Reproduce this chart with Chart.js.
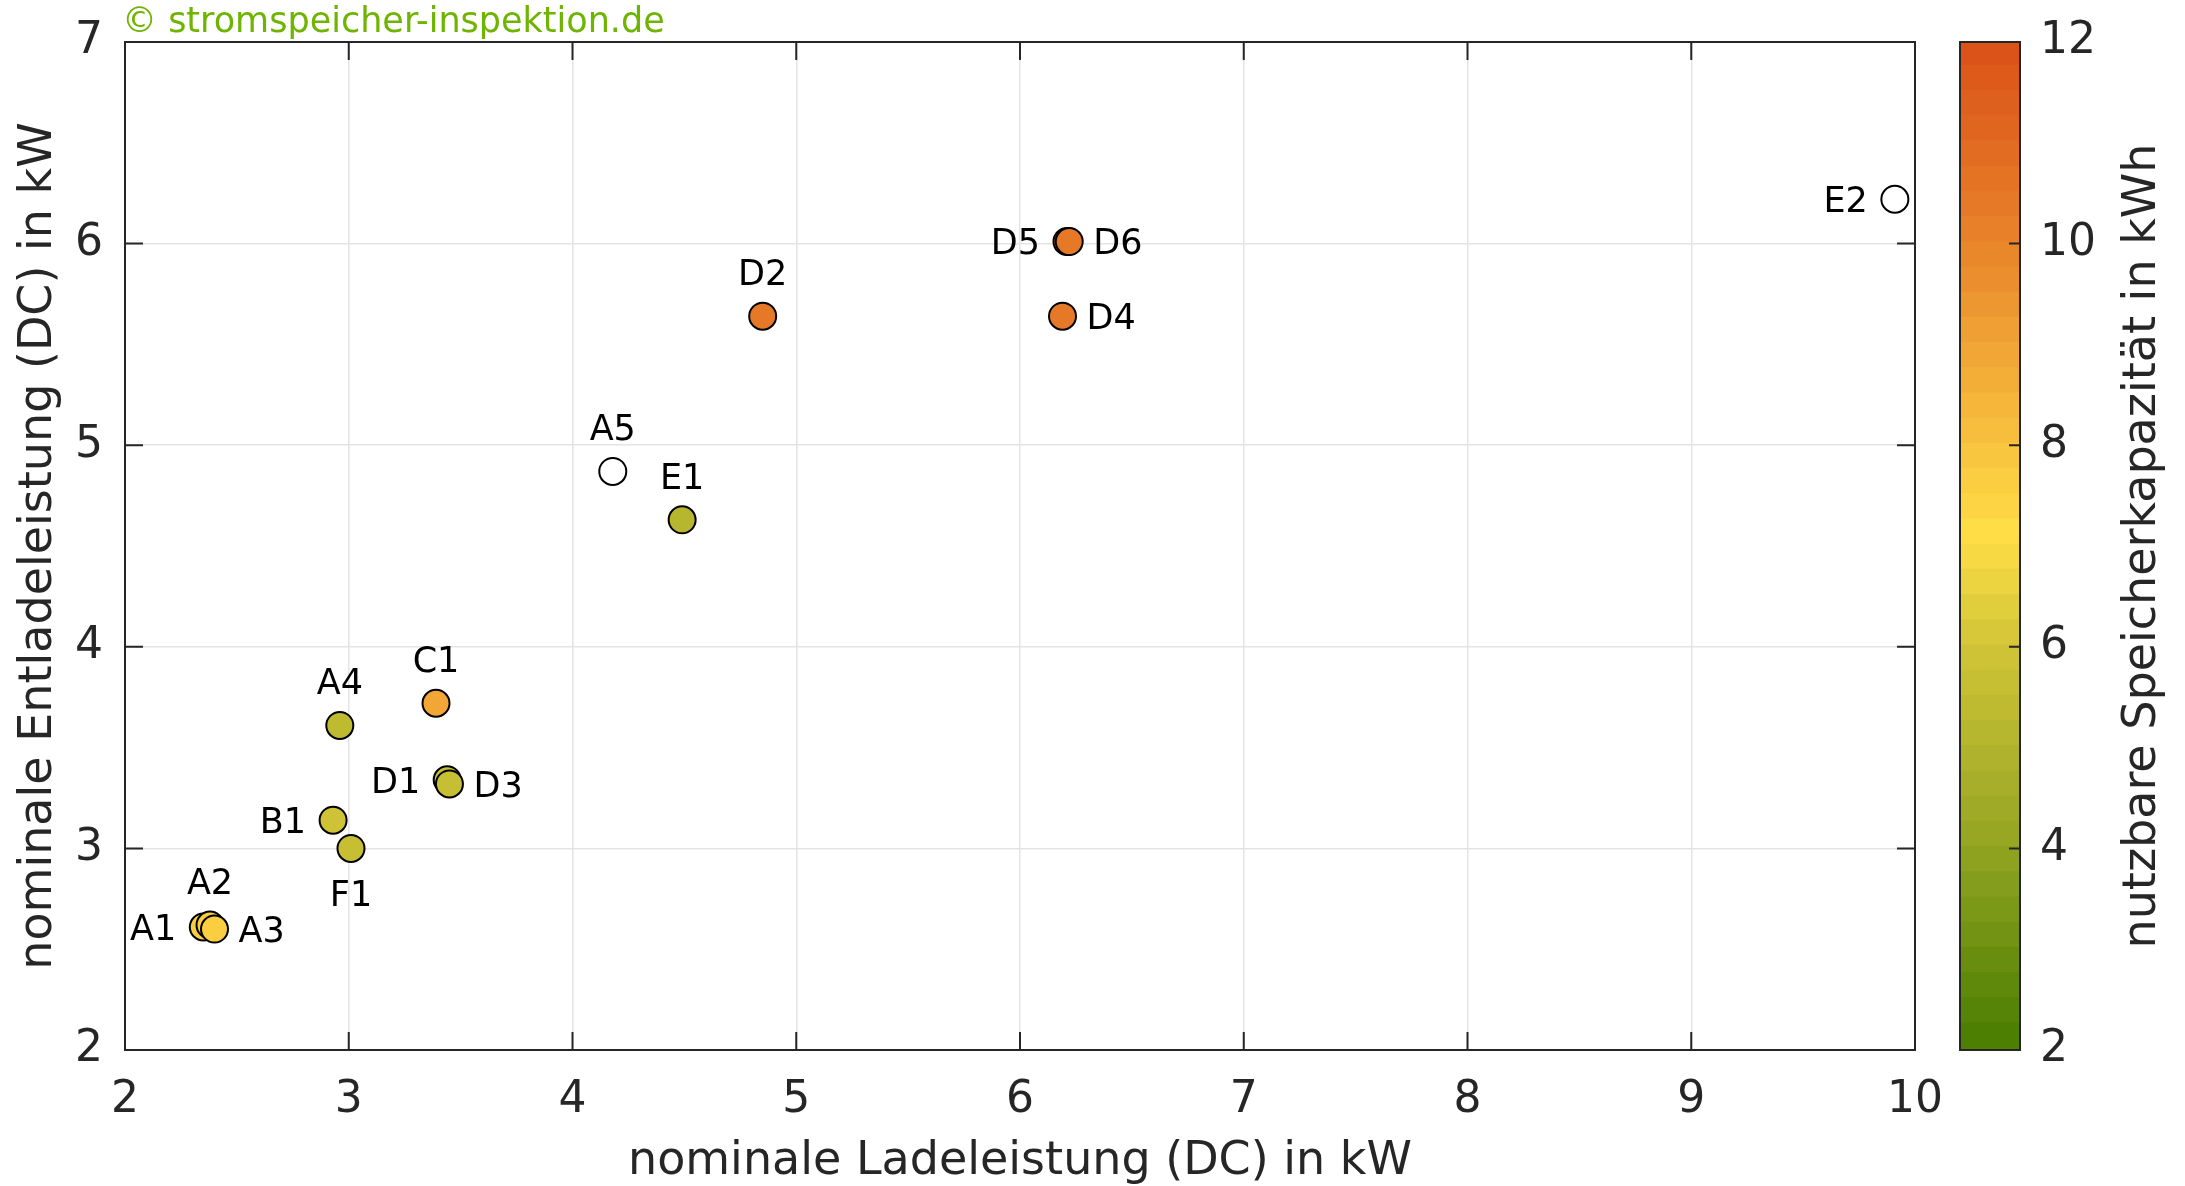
<!DOCTYPE html>
<html><head><meta charset="utf-8">
<script src="https://cdn.jsdelivr.net/npm/chart.js@4/dist/chart.umd.min.js"></script>
<style>
html,body{margin:0;padding:0;background:#fff;overflow:hidden}
#wrap{position:relative;width:2185px;height:1186px}
#main{position:absolute;left:0;top:0}
#cb{position:absolute;left:1940px;top:0}
</style></head><body>
<div id="wrap"><canvas id="main" width="2185" height="1186"></canvas><canvas id="cb" width="245" height="1186"></canvas></div>
<script>
// ---- data ----
const names       = ['A1','A2','A3','A4','A5','B1','C1','D1','D2','D3','D4','D5','D6','E1','E2','F1'];
const chargeKW    = [2.35,2.38,2.40,2.96,4.18,2.93,3.39,3.44,4.85,3.45,6.19,6.21,6.22,4.49,9.91,3.01];
const dischargeKW = [2.61,2.62,2.60,3.61,4.87,3.14,3.72,3.34,5.64,3.32,5.64,6.01,6.01,4.63,6.22,3.00];
const capacityKWh = [7.6,7.6,7.7,5.4,null,5.8,8.9,5.6,10.4,5.6,10.4,10.4,10.4,5.0,null,5.7];
const labelSide   = ['l','t','r','t','t','l','t','l','t','r','r','l','r','t','l','b'];
const xTicks  = [2,3,4,5,6,7,8,9,10];
const yTicks  = [2,3,4,5,6,7];
const cbTicks = [2,4,6,8,10,12];
const cbMin = 2, cbMax = 12, cbLevels = 40;

// ---- styles ----
const FONT = 'DejaVu Sans';
const TXT = '#262626';
const cmapStops = [
  [2,  [72,124,0]],
  [4,  [147,164,34]],
  [6,  [210,197,56]],
  [7.1,[255,222,70]],
  [8,  [248,194,62]],
  [10, [232,131,42]],
  [12, [218,80,24]]
];
function cmapRaw(v){
  if (v <= cmapStops[0][0]) return cmapStops[0][1];
  for (let i=1;i<cmapStops.length;i++){
    const [v1,c1]=cmapStops[i], [v0,c0]=cmapStops[i-1];
    if (v <= v1){
      const t=(v-v0)/(v1-v0);
      return c0.map((c,k)=>Math.round(c+(c1[k]-c)*t));
    }
  }
  return cmapStops[cmapStops.length-1][1];
}
function cmapQuant(v){
  const step=(cbMax-cbMin)/cbLevels;
  let idx=Math.floor((v-cbMin)/step); idx=Math.max(0,Math.min(cbLevels-1,idx));
  const c=cmapRaw(cbMin+(idx+0.5)*step);
  return `rgb(${c[0]},${c[1]},${c[2]})`;
}

Chart.defaults.font.family = FONT;
Chart.defaults.color = TXT;

const points = names.map((n,i)=>({x:chargeKW[i], y:dischargeKW[i]}));
const pointColors = capacityKWh.map(v => v==null ? '#ffffff' : cmapQuant(v));

const mainPlugin = {
  id:'mainDeco',
  beforeDatasetsDraw(chart){
    const {ctx, chartArea:a, scales} = chart;
    ctx.save();
    ctx.strokeStyle = TXT; ctx.lineWidth = 2;
    const tl = 18;
    ctx.beginPath();
    xTicks.forEach(v=>{
      const px = scales.x.getPixelForValue(v);
      ctx.moveTo(px,a.bottom); ctx.lineTo(px,a.bottom-tl);
      ctx.moveTo(px,a.top); ctx.lineTo(px,a.top+tl);
    });
    yTicks.forEach(v=>{
      const py = scales.y.getPixelForValue(v);
      ctx.moveTo(a.left,py); ctx.lineTo(a.left+tl,py);
      ctx.moveTo(a.right,py); ctx.lineTo(a.right-tl,py);
    });
    ctx.stroke();
    ctx.strokeRect(a.left,a.top,a.right-a.left,a.bottom-a.top);
    ctx.restore();
  },
  afterDatasetsDraw(chart){
    const {ctx} = chart;
    const meta = chart.getDatasetMeta(0);
    ctx.save();
    ctx.fillStyle = '#000';
    ctx.font = `35px "${FONT}"`;
    ctx.textBaseline = 'alphabetic';
    const half = 12.8;
    meta.data.forEach((el,i)=>{
      const px=el.x, py=el.y, s=labelSide[i];
      if (s==='t'){ ctx.textAlign='center'; ctx.fillText(names[i],px,py-31); }
      else if (s==='b'){ ctx.textAlign='center'; ctx.fillText(names[i],px,py+45+half); }
      else if (s==='l'){ ctx.textAlign='right'; ctx.fillText(names[i],px-27,py+half); }
      else { ctx.textAlign='left'; ctx.fillText(names[i],px+24,py+half); }
    });
    ctx.restore();
  },
  afterDraw(chart){
    const {ctx} = chart;
    ctx.save();
    ctx.fillStyle = 'rgb(110,180,0)';
    ctx.font = `35px "${FONT}"`;
    ctx.textAlign='left'; ctx.textBaseline='alphabetic';
    ctx.fillText('© stromspeicher-inspektion.de', 122, 32);
    ctx.restore();
  }
};

new Chart(document.getElementById('main'), {
  type:'scatter',
  data:{datasets:[{
    data: points,
    pointRadius: 13.5,
    pointHoverRadius: 13.5,
    borderWidth: 2,
    pointBorderColor: '#000',
    pointBackgroundColor: pointColors
  }]},
  options:{
    responsive:false, animation:false,
    events:[],
    layout:{padding:{left:0,right:270,top:42,bottom:0}},
    plugins:{legend:{display:false}, tooltip:{enabled:false}},
    scales:{
      x:{type:'linear', min:2, max:10, position:'bottom',
        afterBuildTicks(s){ s.ticks = xTicks.map(v=>({value:v})); },
        ticks:{font:{size:44}, color:TXT, padding:24, maxRotation:0, autoSkip:false},
        grid:{color:'#e4e4e4', lineWidth:1.5, drawTicks:false},
        border:{display:false},
        title:{display:true, text:'nominale Ladeleistung (DC) in kW', font:{size:46, lineHeight:1.0}, color:TXT, padding:{top:0,bottom:1}},
        afterFit(s){ s.height = 136; }
      },
      y:{type:'linear', min:2, max:7, position:'left',
        afterBuildTicks(s){ s.ticks = yTicks.map(v=>({value:v})); },
        ticks:{font:{size:44, lineHeight:0.9}, color:TXT, padding:22, autoSkip:false},
        grid:{color:'#e4e4e4', lineWidth:1.5, drawTicks:false},
        border:{display:false},
        title:{display:true, text:'nominale Entladeleistung (DC) in kW', font:{size:46, lineHeight:1.0}, color:TXT, padding:{top:16,bottom:0}},
        afterFit(s){ s.width = 125; }
      }
    }
  },
  plugins:[mainPlugin]
});

// ---- colour bar ----
const bandStep = (cbMax-cbMin)/cbLevels;
const bandDatasets = [];
for (let i=0;i<cbLevels;i++){
  const lo = cbMin + i*bandStep, hi = lo + bandStep;
  bandDatasets.push({
    data:[[lo, Math.min(cbMax, hi + 0.02)]],
    backgroundColor: cmapQuant(lo + bandStep/2),
    borderWidth:0, barPercentage:1, categoryPercentage:1, grouped:false
  });
}
const cbPlugin = {
  id:'cbDeco',
  afterDraw(chart){
    const {ctx, chartArea:a, scales} = chart;
    ctx.save();
    ctx.strokeStyle = TXT; ctx.lineWidth = 2;
    ctx.beginPath();
    cbTicks.forEach(v=>{
      const py = scales.y.getPixelForValue(v);
      ctx.moveTo(a.right,py); ctx.lineTo(a.right-11,py);
    });
    ctx.stroke();
    ctx.strokeRect(a.left,a.top,a.right-a.left,a.bottom-a.top);
    ctx.translate(203,(a.top+a.bottom)/2);
    ctx.rotate(-Math.PI/2);
    ctx.fillStyle = TXT;
    ctx.font = `46px "${FONT}"`;
    ctx.textAlign='center'; ctx.textBaseline='middle';
    ctx.fillText('nutzbare Speicherkapazität in kWh',0,0);
    ctx.restore();
  }
};
new Chart(document.getElementById('cb'), {
  type:'bar',
  data:{labels:[''], datasets:bandDatasets},
  options:{
    responsive:false, animation:false, events:[],
    layout:{padding:{left:20,right:0,top:42,bottom:136}},
    plugins:{legend:{display:false}, tooltip:{enabled:false}},
    scales:{
      x:{display:false},
      y:{type:'linear', min:cbMin, max:cbMax, position:'right',
        afterBuildTicks(s){ s.ticks = cbTicks.map(v=>({value:v})); },
        ticks:{font:{size:44, lineHeight:0.9}, color:TXT, padding:20, autoSkip:false},
        grid:{display:false, drawTicks:false},
        border:{display:false},
        afterFit(s){ s.width = 165; }
      }
    }
  },
  plugins:[cbPlugin]
});
</script>
</body></html>
